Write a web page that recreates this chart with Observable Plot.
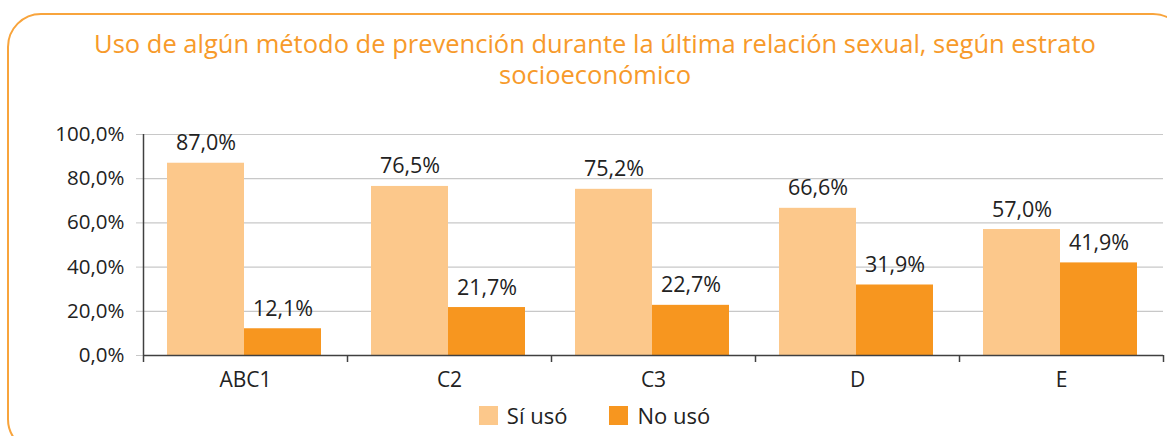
<!DOCTYPE html>
<html><head><meta charset="utf-8">
<script src="https://cdn.jsdelivr.net/npm/d3@7"></script>
<script src="https://cdn.jsdelivr.net/npm/@observablehq/plot@0.6"></script>
<style>
body{margin:0;background:#fff;font-family:"Open Sans",sans-serif;}
#wrap{position:relative;width:1167px;height:436px;overflow:hidden;}
#frame{position:absolute;left:7px;top:13px;width:1180px;height:440px;border:2px solid #F8A43C;border-radius:34px;box-sizing:border-box;}
#title{position:absolute;left:20px;width:1150px;top:28px;text-align:center;color:#F79A2A;font-size:25.5px;line-height:31px;}
#chart{position:absolute;left:0;top:100px;}
#legend{position:absolute;top:400px;left:0;width:1167px;display:flex;justify-content:center;gap:42px;font-size:22px;color:#222;padding-left:22px;box-sizing:border-box;}
.it{display:flex;align-items:center;gap:9px;}
.sw{width:19px;height:19px;display:inline-block;}
</style></head>
<body><div id="wrap"><div id="frame"></div>
<div id="title">Uso de algún método de prevención durante la última relación sexual, según estrato<br>socioeconómico</div>
<div id="chart"></div>
<div id="legend"></div></div>
<script>
const categories = ["ABC1","C2","C3","D","E"];
const series = ["Sí usó","No usó"];
const siUso = [87.0,76.5,75.2,66.6,57.0];
const noUso = [12.1,21.7,22.7,31.9,41.9];
const yTicks = [0,20,40,60,80,100];
const colors = ["#FCC88B","#F7961F"];

const fmt = v => v.toFixed(1).replace(".",",")+"%";
const W = 1167, ML = 143, MR = 4;
const bw = (W - ML - MR) / categories.length;
const barW = 77, gapLeft = 24;

const siData = categories.map((c,i)=>({cat:c, v:siUso[i]}));
const noData = categories.map((c,i)=>({cat:c, v:noUso[i]}));

const plot = Plot.plot({
  width:W, height:300,
  marginTop:34, marginBottom:45, marginLeft:ML, marginRight:MR,
  style:{fontFamily:"'Open Sans', sans-serif", fontSize:"20px", color:"#222", background:"transparent"},
  x:{domain:categories, padding:0, label:null},
  y:{domain:[0,100], label:null},
  marks:[
    Plot.gridY(yTicks,{stroke:"#c8c8c8", strokeOpacity:1, strokeWidth:1.2}),
    Plot.axisY(yTicks,{tickFormat:fmt, tickSize:7, tickPadding:12, stroke:"#c8c8c8", fontSize:20.5, label:null}),
    Plot.barY(siData,{x:"cat", y:"v", fill:colors[0], insetLeft:gapLeft, insetRight:bw-gapLeft-barW}),
    Plot.barY(noData,{x:"cat", y:"v", fill:colors[1], insetLeft:gapLeft+barW, insetRight:bw-gapLeft-2*barW}),
    Plot.text(siData,{x:"cat", y:"v", text:d=>fmt(d.v), dx:gapLeft+barW/2-bw/2, lineAnchor:"bottom", dy:-13, fontSize:21.5, fill:"#222"}),
    Plot.text(noData,{x:"cat", y:"v", text:d=>fmt(d.v), dx:gapLeft+1.5*barW-bw/2, lineAnchor:"bottom", dy:-13, fontSize:21.5, fill:"#222"}),
    Plot.ruleY([0],{stroke:"#404040", strokeWidth:1.5}),
    Plot.ruleX([categories[0]],{dx:-bw/2, y1:0, y2:100, stroke:"#404040", strokeWidth:1.5}),
    Plot.axisX(categories,{tickSize:7, dx:-bw/2, tickFormat:()=>"", stroke:"#404040", strokeWidth:1.5, label:null}),
    Plot.axisX([categories[categories.length-1]],{tickSize:7, dx:bw/2, tickFormat:()=>"", stroke:"#404040", strokeWidth:1.5, label:null}),
    Plot.axisX(categories,{tickSize:0, tickPadding:17, fontSize:21, fill:"#222", label:null})
  ]
});
document.getElementById("chart").appendChild(plot);

const lg = document.getElementById("legend");
series.forEach((s,i)=>{
  const it = document.createElement("span"); it.className="it";
  const sw = document.createElement("span"); sw.className="sw"; sw.style.background=colors[i];
  const t = document.createElement("span"); t.textContent=s;
  it.appendChild(sw); it.appendChild(t); lg.appendChild(it);
});
</script>
</body></html>
